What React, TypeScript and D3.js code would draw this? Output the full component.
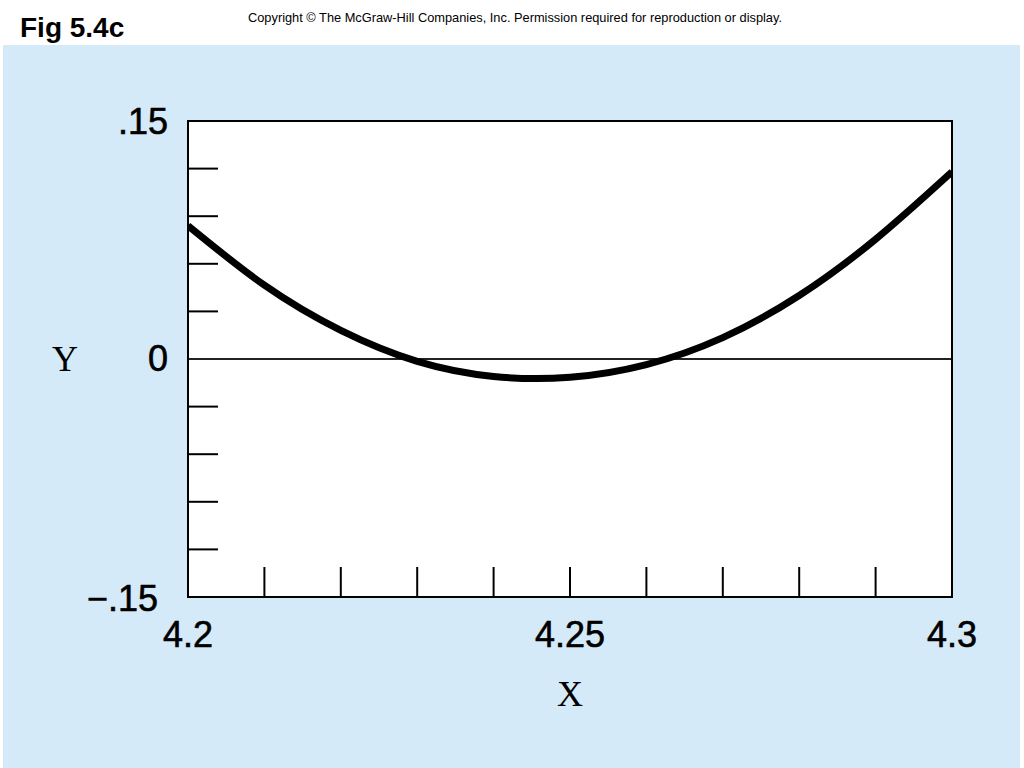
import React from "react";
import * as d3 from "d3";

const xValues = [4.2, 4.21, 4.22, 4.23, 4.24, 4.25, 4.26, 4.27, 4.28, 4.29, 4.3];
const yValues = [0.084, 0.0465, 0.018, -0.0015, -0.011, -0.0115, -0.0035, 0.0135, 0.04, 0.0755, 0.118];
const xTickValues = [4.2, 4.21, 4.22, 4.23, 4.24, 4.25, 4.26, 4.27, 4.28, 4.29, 4.3];
const yTickValues = [-0.15, -0.12, -0.09, -0.06, -0.03, 0, 0.03, 0.06, 0.09, 0.12, 0.15];
const xTickLabels = [
  { v: 4.2, t: "4.2" },
  { v: 4.25, t: "4.25" },
  { v: 4.3, t: "4.3" },
];
const yTickLabels = [
  { v: 0.15, t: ".15" },
  { v: 0, t: "0" },
  { v: -0.15, t: "\u2212.15" },
];

export default function App() {
  const W = 1024;
  const H = 768;
  const left = 188, right = 952, top = 121, bottom = 597;
  const x = d3.scaleLinear().domain([4.2, 4.3]).range([left, right]);
  const y = d3.scaleLinear().domain([-0.15, 0.15]).range([bottom, top]);
  const pts = xValues.map((v, i) => [v, yValues[i]] as [number, number]);
  const line = d3
    .line<[number, number]>()
    .x((d) => x(d[0]))
    .y((d) => y(d[1]))
    .curve(d3.curveNatural);
  const sans = "'Liberation Sans', Arial, Helvetica, sans-serif";
  const serif = "'Liberation Serif', 'Times New Roman', serif";
  return (
    <svg
      width={W}
      height={H}
      style={{ position: "absolute", left: 0, top: 0, display: "block" }}
    >
      <rect x={0} y={0} width={W} height={H} fill="#ffffff" />
      <rect x={3} y={45} width={1017} height={H - 45} fill="#d4eaf9" />
      <text x={20} y={37} fontFamily={sans} fontWeight="bold" fontSize={28} fill="#000">
        Fig 5.4c
      </text>
      <text x={248} y={22} fontFamily={sans} fontSize={13} fill="#000" textLength={534} lengthAdjust="spacingAndGlyphs">
        Copyright © The McGraw-Hill Companies, Inc. Permission required for reproduction or display.
      </text>
      <rect x={left} y={top} width={right - left} height={bottom - top} fill="#ffffff" />
      {yTickValues
        .filter((v) => v !== -0.15 && v !== 0.15)
        .map((v) => (
          <line key={"yt" + v} x1={left} x2={left + 30} y1={y(v)} y2={y(v)} stroke="#000" strokeWidth={2} />
        ))}
      {xTickValues
        .filter((v) => v !== 4.2 && v !== 4.3)
        .map((v) => (
          <line key={"xt" + v} x1={x(v)} x2={x(v)} y1={bottom} y2={bottom - 30} stroke="#000" strokeWidth={2} />
        ))}
      <line x1={left} x2={right} y1={y(0)} y2={y(0)} stroke="#222" strokeWidth={2} />
      <clipPath id="plotclip">
        <rect x={left} y={top} width={right - left} height={bottom - top} />
      </clipPath>
      <path d={line(pts) || ""} fill="none" stroke="#000" strokeWidth={7} clipPath="url(#plotclip)" />
      <rect x={left} y={top} width={right - left} height={bottom - top} fill="none" stroke="#000" strokeWidth={2} />
      {yTickLabels.map((d) => (
        <text
          key={"yl" + d.t}
          x={d.t === "0" ? 158 : d.t === ".15" ? 168 : 158}
          y={y(d.v) + (d.t === ".15" ? 13 : d.t === "0" ? 12 : 14)}
          textAnchor={d.t === "0" ? "middle" : "end"}
          fontFamily={sans}
          fontSize={36}
          fill="#000"
          stroke="#000"
          strokeWidth={0.6}
        >
          {d.t}
        </text>
      ))}
      {xTickLabels.map((d) => (
        <text
          key={"xl" + d.t}
          x={x(d.v)}
          y={647}
          textAnchor="middle"
          fontFamily={sans}
          fontSize={36}
          fill="#000"
          stroke="#000"
          strokeWidth={0.6}
        >
          {d.t}
        </text>
      ))}
      <text x={65} y={371} textAnchor="middle" fontFamily={serif} fontSize={36} fill="#000">
        Y
      </text>
      <text x={570} y={706} textAnchor="middle" fontFamily={serif} fontSize={36} fill="#000">
        X
      </text>
    </svg>
  );
}
